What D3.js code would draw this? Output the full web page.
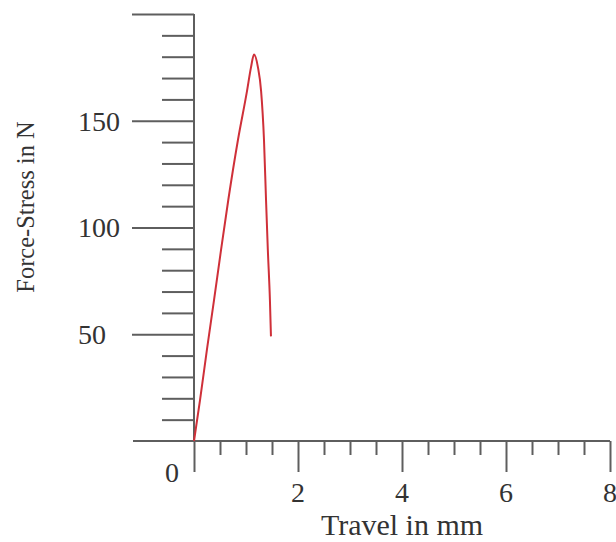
<!DOCTYPE html>
<html>
<head>
<meta charset="utf-8">
<script src="https://cdn.jsdelivr.net/npm/d3@7/dist/d3.min.js"></script>
<style>
  body { margin: 0; background: #fff; }
  text { font-family: 'Liberation Serif', 'Times New Roman', serif; fill: #333; }
</style>
</head>
<body>
<div id="chart"></div>
<script>
// values
const travel = [0, 0.115, 0.25, 0.385, 0.52, 0.66, 0.845, 1.02, 1.096, 1.154, 1.23, 1.29, 1.346, 1.385, 1.42, 1.46, 1.48];
const force  = [0, 19, 43, 66, 89.5, 113, 141, 164, 175, 181, 175, 164, 141, 113, 89.5, 66, 49];
const xTickLabels = ['0', '2', '4', '6', '8'];
const yTickLabels = ['50', '100', '150'];

const MARGIN = {TOP: 14, BOTTOM: 101, LEFT: 194, RIGHT: 6};
const WIDTH = 616 - MARGIN.LEFT - MARGIN.RIGHT;
const HEIGHT = 542 - MARGIN.TOP - MARGIN.BOTTOM;
const AXIS_COLOR = '#5e5e5e';

const svg = d3.select('#chart')
  .append('svg')
    .attr('width', 616)
    .attr('height', 542);

const g = svg.append('g')
  .attr('transform', `translate(${MARGIN.LEFT}, ${MARGIN.TOP})`);

const x = d3.scaleLinear()
  .domain([0, 8])
  .range([0, WIDTH]);

const y = d3.scaleLinear()
  .domain([0, 200])
  .range([HEIGHT, 0]);

const minorX = d3.range(0.5, 8, 0.5).filter(d => d % 2 !== 0);
const majorX = xTickLabels.map(Number);
const minorY = d3.range(10, 201, 10).filter(d => d % 50 !== 0);
const majorY = [50, 100, 150, 200];

function styleAxis(sel) {
  sel.select('.domain').remove();
  sel.selectAll('text').remove();
  sel.selectAll('line')
    .attr('stroke', AXIS_COLOR)
    .attr('stroke-width', 2);
}

// x axis: minor and major ticks hang below the line
g.append('g')
  .attr('transform', `translate(0, ${HEIGHT})`)
  .call(d3.axisBottom(x).tickValues(minorX).tickSize(14))
  .call(styleAxis);

g.append('g')
  .attr('transform', `translate(0, ${HEIGHT})`)
  .call(d3.axisBottom(x).tickValues(majorX).tickSize(31))
  .call(styleAxis);

// y axis: ticks stick out to the left
g.append('g')
  .call(d3.axisLeft(y).tickValues(minorY).tickSize(32))
  .call(styleAxis);

g.append('g')
  .call(d3.axisLeft(y).tickValues(majorY).tickSize(62))
  .call(styleAxis);

// axis lines
g.append('line')
  .attr('x1', -61).attr('x2', x(8))
  .attr('y1', y(0)).attr('y2', y(0))
  .attr('stroke', AXIS_COLOR)
  .attr('stroke-width', 2);

g.append('line')
  .attr('x1', 0).attr('x2', 0)
  .attr('y1', y(0) + 1).attr('y2', y(200))
  .attr('stroke', AXIS_COLOR)
  .attr('stroke-width', 2);

// tick labels
g.selectAll('.xlabel')
  .data(xTickLabels)
  .enter().append('text')
    .attr('class', 'xlabel')
    .attr('x', d => d === '0' ? x(0) - 22 : x(+d))
    .attr('y', d => d === '0' ? HEIGHT + 41 : HEIGHT + 61)
    .attr('text-anchor', 'middle')
    .attr('font-size', '28px')
    .text(d => d);

g.selectAll('.ylabel')
  .data(yTickLabels)
  .enter().append('text')
    .attr('class', 'ylabel')
    .attr('x', -116)
    .attr('y', d => y(+d))
    .attr('dy', '0.35em')
    .attr('font-size', '28px')
    .text(d => d);

// axis titles
g.append('text')
  .attr('x', x(4))
  .attr('y', HEIGHT + 94)
  .attr('text-anchor', 'middle')
  .attr('font-size', '30px')
  .text('Travel in mm');

svg.append('text')
  .attr('transform', 'translate(34, 207) rotate(-90)')
  .attr('text-anchor', 'middle')
  .attr('font-size', '24.5px')
  .text('Force-Stress in N');

// curve
const line = d3.line()
  .x((d, i) => x(travel[i]))
  .y(d => y(d))
  .curve(d3.curveMonotoneX);

g.append('path')
  .datum(force)
  .attr('d', line)
  .attr('fill', 'none')
  .attr('stroke', '#cf3039')
  .attr('stroke-width', 2);
</script>
</body>
</html>
